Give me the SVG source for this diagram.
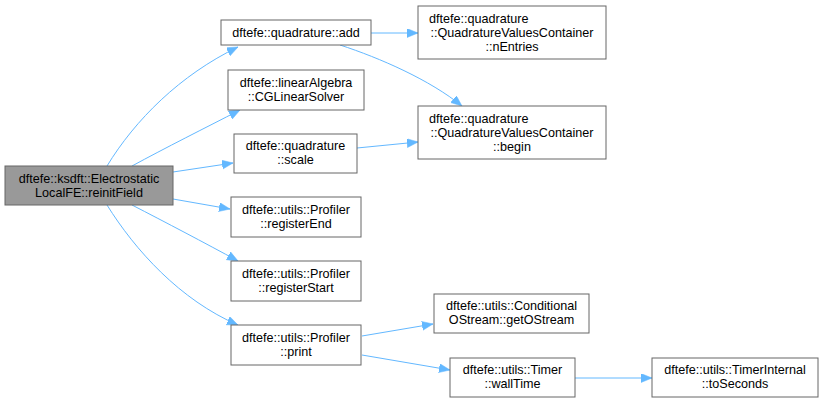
<svg xmlns="http://www.w3.org/2000/svg" width="825" height="403" viewBox="0 0 825 403">
<defs>
<style>
.n rect{fill:#fff;stroke:#666;stroke-width:1}
.main rect{fill:#999;stroke:#666;stroke-width:1}
text{font-family:"Liberation Sans",Arial,Helvetica,sans-serif;font-size:12.6px;fill:#000;text-anchor:middle}
text.l{text-anchor:start}
.e path{fill:none;stroke:#63b8ff;stroke-width:1;marker-end:url(#ah)}
</style>
<marker id="ah" markerWidth="12" markerHeight="10" refX="11" refY="4.5" orient="auto" markerUnits="userSpaceOnUse">
<path d="M0,0 L11,4.5 L0,9 z" fill="#63b8ff" stroke="#63b8ff" stroke-width="0.5"/>
</marker>
</defs>
<rect width="825" height="403" fill="#fff"/>
<g class="e" id="edges">
<path d="M107,166 C135,120 180,75 238,47"/>
<path d="M132,166 C165,148 205,128 240,110"/>
<path d="M173,172 L233,163"/>
<path d="M173,199 L230,209"/>
<path d="M132,205 C165,222 205,243 238,261"/>
<path d="M107,205 C135,250 180,300 238,325"/>
<path d="M371,33 L418,33"/>
<path d="M340,45 C380,58 430,80 462,106"/>
<path d="M357,148 L418,142"/>
<path d="M362,336 L433,324"/>
<path d="M362,355 L450,370"/>
<path d="M575,378 L652,378"/>
</g>
<g id="main" class="main"><rect x="5" y="166" width="168" height="39"/><text x="89" y="182.5">dftefe::ksdft::Electrostatic</text><text x="89" y="196.5">LocalFE::reinitField</text></g>
<g id="add" class="n"><rect x="221" y="20" width="150" height="25"/><text x="296" y="37">dftefe::quadrature::add</text></g>
<g id="cg" class="n"><rect x="228" y="70" width="136" height="40"/><text x="296" y="86.5">dftefe::linearAlgebra</text><text x="296" y="100.5">::CGLinearSolver</text></g>
<g id="scale" class="n"><rect x="234" y="134" width="123" height="39"/><text x="295.5" y="150">dftefe::quadrature</text><text x="295.5" y="164">::scale</text></g>
<g id="regEnd" class="n"><rect x="231" y="197" width="130" height="40"/><text x="296" y="213.5">dftefe::utils::Profiler</text><text x="296" y="227.5">::registerEnd</text></g>
<g id="regStart" class="n"><rect x="231" y="261" width="130" height="40"/><text x="296" y="277.5">dftefe::utils::Profiler</text><text x="296" y="291.5">::registerStart</text></g>
<g id="print" class="n"><rect x="231" y="325" width="130" height="40"/><text x="296" y="341.5">dftefe::utils::Profiler</text><text x="296" y="355.5">::print</text></g>
<g id="nEntries" class="n"><rect x="418" y="6" width="188" height="53"/><text class="l" x="429" y="22.5">dftefe::quadrature</text><text x="512" y="36.5">::QuadratureValuesContainer</text><text x="512" y="50.5">::nEntries</text></g>
<g id="begin" class="n"><rect x="418" y="106" width="188" height="53"/><text class="l" x="429" y="122.5">dftefe::quadrature</text><text x="512" y="136.5">::QuadratureValuesContainer</text><text x="512" y="150.5">::begin</text></g>
<g id="getOStream" class="n"><rect x="434" y="294" width="155" height="39"/><text x="511.5" y="310">dftefe::utils::Conditional</text><text x="511.5" y="324">OStream::getOStream</text></g>
<g id="wallTime" class="n"><rect x="450" y="358" width="125" height="39"/><text x="512.5" y="374">dftefe::utils::Timer</text><text x="512.5" y="388">::wallTime</text></g>
<g id="toSeconds" class="n"><rect x="652" y="358" width="166" height="39"/><text x="735" y="374">dftefe::utils::TimerInternal</text><text x="735" y="388">::toSeconds</text></g>
</svg>
